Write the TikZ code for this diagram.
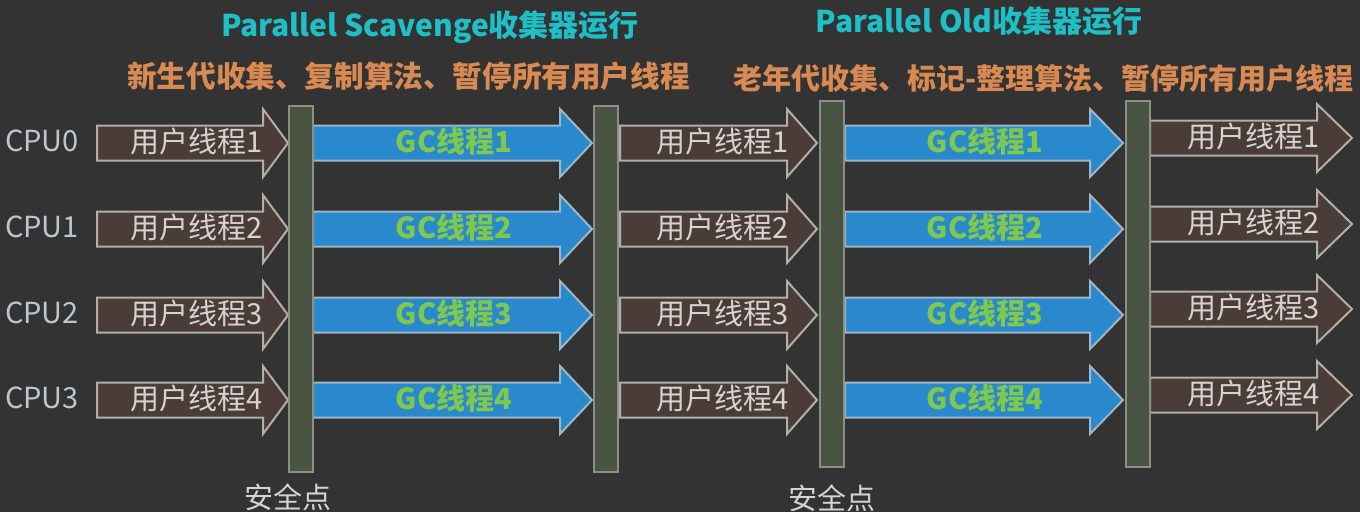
\documentclass[tikz,border=0pt]{standalone}
\usepackage{fontspec}
\setmainfont{Noto Sans CJK SC}
\definecolor{bg}{HTML}{333333}
\definecolor{userfill}{HTML}{4A3D39}
\definecolor{userline}{HTML}{B5ADA8}
\definecolor{usertext}{HTML}{D8D2D0}
\definecolor{gcfill}{HTML}{2A88CC}
\definecolor{gcline}{HTML}{9DB6C6}
\definecolor{gctext}{HTML}{7EC850}
\definecolor{barfill}{HTML}{4A5442}
\definecolor{barline}{HTML}{8E8E86}
\definecolor{titlecol}{HTML}{1EBFC6}
\definecolor{subcol}{HTML}{D98A52}
\definecolor{cpucol}{HTML}{BCC6CE}
\newcommand\blockarrow[5]{%
  \draw[#1] (#2,#5-17.5) -- (#3,#5-17.5) -- (#3,#5-34) -- (#4,#5)
    -- (#3,#5+34) -- (#3,#5+17.5) -- (#2,#5+17.5) -- cycle;}
\begin{document}
\begin{tikzpicture}[x=1pt,y=-1pt,
  userarrow/.style={fill=userfill,draw=userline,line width=2pt,line join=miter},
  gcarrow/.style={fill=gcfill,draw=gcline,line width=2pt,line join=miter},
  safebar/.style={draw=barline,fill=barfill,line width=2pt,inner sep=0pt,
    minimum width=24pt,minimum height=366pt},
  ulabel/.style={text=usertext,inner sep=0pt,font=\fontsize{29}{29}\selectfont},
  glabel/.style={text=gctext,inner sep=0pt,font=\fontsize{29}{29}\selectfont\bfseries},
  cpulabel/.style={text=cpucol,inner sep=0pt,font=\fontsize{29}{29}\selectfont},
  titletext/.style={text=titlecol,inner sep=0pt,font=\fontsize{30}{30}\selectfont\bfseries},
  subtext/.style={text=subcol,inner sep=0pt,font=\bfseries},
  safetext/.style={text=usertext,inner sep=0pt,font=\fontsize{29}{29}\selectfont}]
\fill[bg] (0,0) rectangle (1360,512);
\useasboundingbox (0,0) rectangle (1360,512);

% titles
\node[titletext] (t1) at (430,27) {Parallel Scavenge收集器运行};
\node[subtext,anchor=west,font=\fontsize{29.6}{29.6}\selectfont\bfseries] (s1) at (127,76) {新生代收集、复制算法、暂停所有用户线程};
\node[titletext] (t2) at (979,21) {Parallel Old收集器运行};
\node[subtext,anchor=west,font=\fontsize{29}{29}\selectfont\bfseries] (s2) at (733,78) {老年代收集、标记-整理算法、暂停所有用户线程};

% arrows
\foreach \n/\y/\yy in {0/143/138,1/229/224,2/315/309,3/400/395}{
  \pgfmathtruncatemacro\k{\n+1}
  \node[cpulabel] (cpu\n) at (42,\y-2) {CPU\n};
  \blockarrow{userarrow}{97}{263}{288}{\y}
  \node[ulabel,anchor=east] (ua\n) at (263,\y-2) {用户线程\k};
  \blockarrow{gcarrow}{313}{560}{592}{\y}
  \node[glabel] (ga\n) at (454,\y-2) {GC线程\k};
  \blockarrow{userarrow}{620}{787}{817}{\y}
  \node[ulabel,anchor=east] (ub\n) at (789,\y-2) {用户线程\k};
  \blockarrow{gcarrow}{845}{1090}{1123}{\y}
  \node[glabel] (gb\n) at (985,\y-2) {GC线程\k};
  \blockarrow{userarrow}{1150}{1317}{1352}{\yy}
  \node[ulabel,anchor=east] (uc\n) at (1320,\yy-2) {用户线程\k};
}

% safepoint bars
\node[safebar] (bar1) at (301,288.5) {};
\node[safebar] (bar2) at (605.5,288.5) {};
\node[safebar] (bar3) at (832,284) {};
\node[safebar] (bar4) at (1137.5,284) {};

\node[safetext] (sp1) at (288,497) {安全点};
\node[safetext] (sp2) at (832,498) {安全点};
\end{tikzpicture}
\end{document}
